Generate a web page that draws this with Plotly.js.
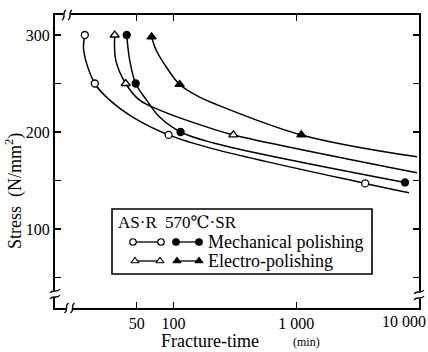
<!DOCTYPE html>
<html><head><meta charset="utf-8">
<script src="https://cdn.plot.ly/plotly-3.0.1.min.js"></script>
<style>body{margin:0;background:#fff}#chart{width:428px;height:352px}</style>
</head><body><div id="chart"></div>
<script>
// ---- measured points (fracture time in min, stress in N/mm2) ----
const asrMechTime   = [18.9, 22.8, 91, 3640];
const asrMechStress = [300, 250, 197, 147];
const srMechTime    = [41.5, 49.1, 114, 7690];
const srMechStress  = [300, 250, 200, 148];
const asrElecTime   = [33.1, 40.7, 307];
const asrElecStress = [300, 250, 197];
const srElecTime    = [66.2, 112, 1100];
const srElecStress  = [298, 249, 197];

// ---- fitted curves, points ----
const asrMechCurveTime   = [18.9, 18.5, 22.8, 30.2, 46.4, 91, 211, 3640, 8290];
const asrMechCurveStress = [300, 284, 250, 232.8, 215.4, 197, 182.6, 147, 137.4];
const srMechCurveTime    = [41.5, 43.9, 49.1, 60.3, 76.9, 114, 211, 7690];
const srMechCurveStress  = [300, 273.8, 250, 232.8, 215.4, 200, 188.7, 148];
const asrElecCurveTime   = [33.1, 33.8, 40.7, 52.9, 76.9, 211, 307, 9630];
const asrElecCurveStress = [300, 273.8, 250, 232.8, 222.6, 203, 197, 158];
const srElecCurveTime    = [66.2, 72.3, 87.2, 112, 163, 211, 1100, 9630];
const srElecCurveStress  = [298, 284, 267, 249, 236, 229.7, 197, 174.4];

// ---- tick labels ----
const xTickVals = [50, 100, 1000];
const xTickText = ['50', '100', '1 000'];
const xLastTickLabel = '10 000';
const yTickVals = [100, 200, 300];
const yTickText = ['100', '200', '300'];
const yMinorTickVals = [50, 150, 250];

const FONT = '"Liberation Serif", "DejaVu Serif", serif';
const W = 428, H = 352;
const L = 55, R = 419, T = 15, B = 308;
const px = x => (x - L) / (R - L);
const py = y => (B - y) / (B - T);

const curveLine = {color: '#000', width: 1.5, shape: 'spline', smoothing: 1};
function curve(x, y) {
  return {x, y, mode: 'lines', line: curveLine, hoverinfo: 'skip', showlegend: false};
}
function pts(x, y, symbol, hollow) {
  return {x, y, mode: 'markers', showlegend: false,
    marker: {symbol, size: symbol === 'triangle-up' ? 8 : 7, color: hollow ? '#fff' : '#000',
             line: {color: '#000', width: 1.3}}};
}
// legend samples on an overlay axis in pixel units
function legSample(x, y, symbol, hollow) {
  return {x, y, xaxis: 'x2', yaxis: 'y2', mode: 'lines+markers', showlegend: false, hoverinfo: 'skip',
    line: {color: '#000', width: 1.3},
    marker: {symbol, size: symbol === 'triangle-up' ? 7 : 6.5, color: hollow ? '#fff' : '#000',
             line: {color: '#000', width: 1.2}}};
}

const data = [
  curve(asrMechCurveTime, asrMechCurveStress),
  curve(srMechCurveTime, srMechCurveStress),
  curve(asrElecCurveTime, asrElecCurveStress),
  curve(srElecCurveTime, srElecCurveStress),
  pts(asrMechTime, asrMechStress, 'circle', true),
  pts(srMechTime, srMechStress, 'circle', false),
  pts(asrElecTime, asrElecStress, 'triangle-up', true),
  pts(srElecTime, srElecStress, 'triangle-up', false),
  legSample([133, 161], [242, 242], 'circle', true),
  legSample([176, 199], [242, 242], 'circle', false),
  legSample([135, 160], [261, 261], 'triangle-up', true),
  legSample([177, 199], [261, 261], 'triangle-up', false)
];

// axis breaks
const shapes = [];
function hBreak(cx, cy) {
  shapes.push({type: 'rect', xref: 'paper', yref: 'paper', x0: px(cx - 3.5), x1: px(cx + 3.5), y0: py(cy + 2.5), y1: py(cy - 2.5),
    fillcolor: '#fff', line: {width: 0}, layer: 'above'});
  [-3, 3].forEach(d => {
    const x = cx + d;
    shapes.push({type: 'path', xref: 'paper', yref: 'paper', layer: 'above', line: {color: '#000', width: 1.3},
      path: `M${px(x - 2)},${py(cy + 5)} C${px(x + 2.5)},${py(cy + 2)} ${px(x - 2.5)},${py(cy - 2)} ${px(x + 2)},${py(cy - 5)}`});
  });
}
function vBreak(cx, cy) {
  shapes.push({type: 'rect', xref: 'paper', yref: 'paper', x0: px(cx - 2.5), x1: px(cx + 2.5), y0: py(cy + 3.5), y1: py(cy - 3.5),
    fillcolor: '#fff', line: {width: 0}, layer: 'above'});
  [-3, 3].forEach(d => {
    const y = cy + d;
    shapes.push({type: 'path', xref: 'paper', yref: 'paper', layer: 'above', line: {color: '#000', width: 1.3},
      path: `M${px(cx - 5)},${py(y + 2)} C${px(cx - 2)},${py(y - 2.5)} ${px(cx + 2)},${py(y + 2.5)} ${px(cx + 5)},${py(y - 2)}`});
  });
}
hBreak(69.5, B);
hBreak(67, T);
vBreak(L, 294);
vBreak(R, 295);
// legend box
shapes.push({type: 'rect', xref: 'paper', yref: 'paper', x0: px(112), x1: px(372), y0: py(274), y1: py(209),
  line: {color: '#000', width: 1.6}, fillcolor: 'rgba(0,0,0,0)', layer: 'above'});

function ann(text, x, y, size, xanchor, extra) {
  return Object.assign({text, xref: 'paper', yref: 'paper', x: px(x), y: py(y), xanchor: xanchor || 'center', yanchor: 'middle',
    showarrow: false, font: {family: FONT, size, color: '#000'}}, extra || {});
}
const annotations = [
  ann('AS·R', 116, 222, 17, 'left'),
  ann('570℃·SR', 163, 222, 17, 'left'),
  ann('Mechanical polishing', 206, 242, 18, 'left'),
  ann('Electro-polishing', 206, 261, 18, 'left'),
  ann(xLastTickLabel, 428, 321, 16, 'right'),
  ann('Fracture-time', 210, 341, 18, 'center'),
  ann('(min)', 306, 342, 12, 'center'),
  ann('Stress  (N/mm<sup>2</sup>)', 14, 191, 18, 'center', {textangle: -90})
];

const layout = {
  width: W, height: H,
  margin: {l: L, r: W - R, t: T, b: H - B, pad: 0},
  paper_bgcolor: '#fff', plot_bgcolor: '#fff',
  showlegend: false,
  font: {family: FONT, color: '#000'},
  xaxis: {type: 'log', range: [Math.log10(10.8), 4], tickmode: 'array', tickvals: xTickVals, ticktext: xTickText,
    ticks: 'inside', ticklen: 6, tickwidth: 1.5, tickcolor: '#000',
    showline: true, linewidth: 2, linecolor: '#000', mirror: 'ticks', showgrid: false, zeroline: false,
    tickfont: {family: FONT, size: 16, color: '#000'}},
  yaxis: {range: [18.6, 320.6], tickmode: 'array', tickvals: yTickVals, ticktext: yTickText,
    ticks: 'inside', ticklen: 6, tickwidth: 1.5, tickcolor: '#000',
    minor: {tickmode: 'array', tickvals: yMinorTickVals, ticks: 'inside', ticklen: 6, tickwidth: 1.5, tickcolor: '#000', showgrid: false},
    showline: true, linewidth: 2, linecolor: '#000', mirror: 'ticks', showgrid: false, zeroline: false,
    tickfont: {family: FONT, size: 16, color: '#000'}},
  xaxis2: {overlaying: 'x', range: [L, R], visible: false, fixedrange: true},
  yaxis2: {overlaying: 'y', range: [B, T], visible: false, fixedrange: true},
  shapes, annotations
};

Plotly.newPlot('chart', data, layout, {staticPlot: true, displayModeBar: false});
</script></body></html>
